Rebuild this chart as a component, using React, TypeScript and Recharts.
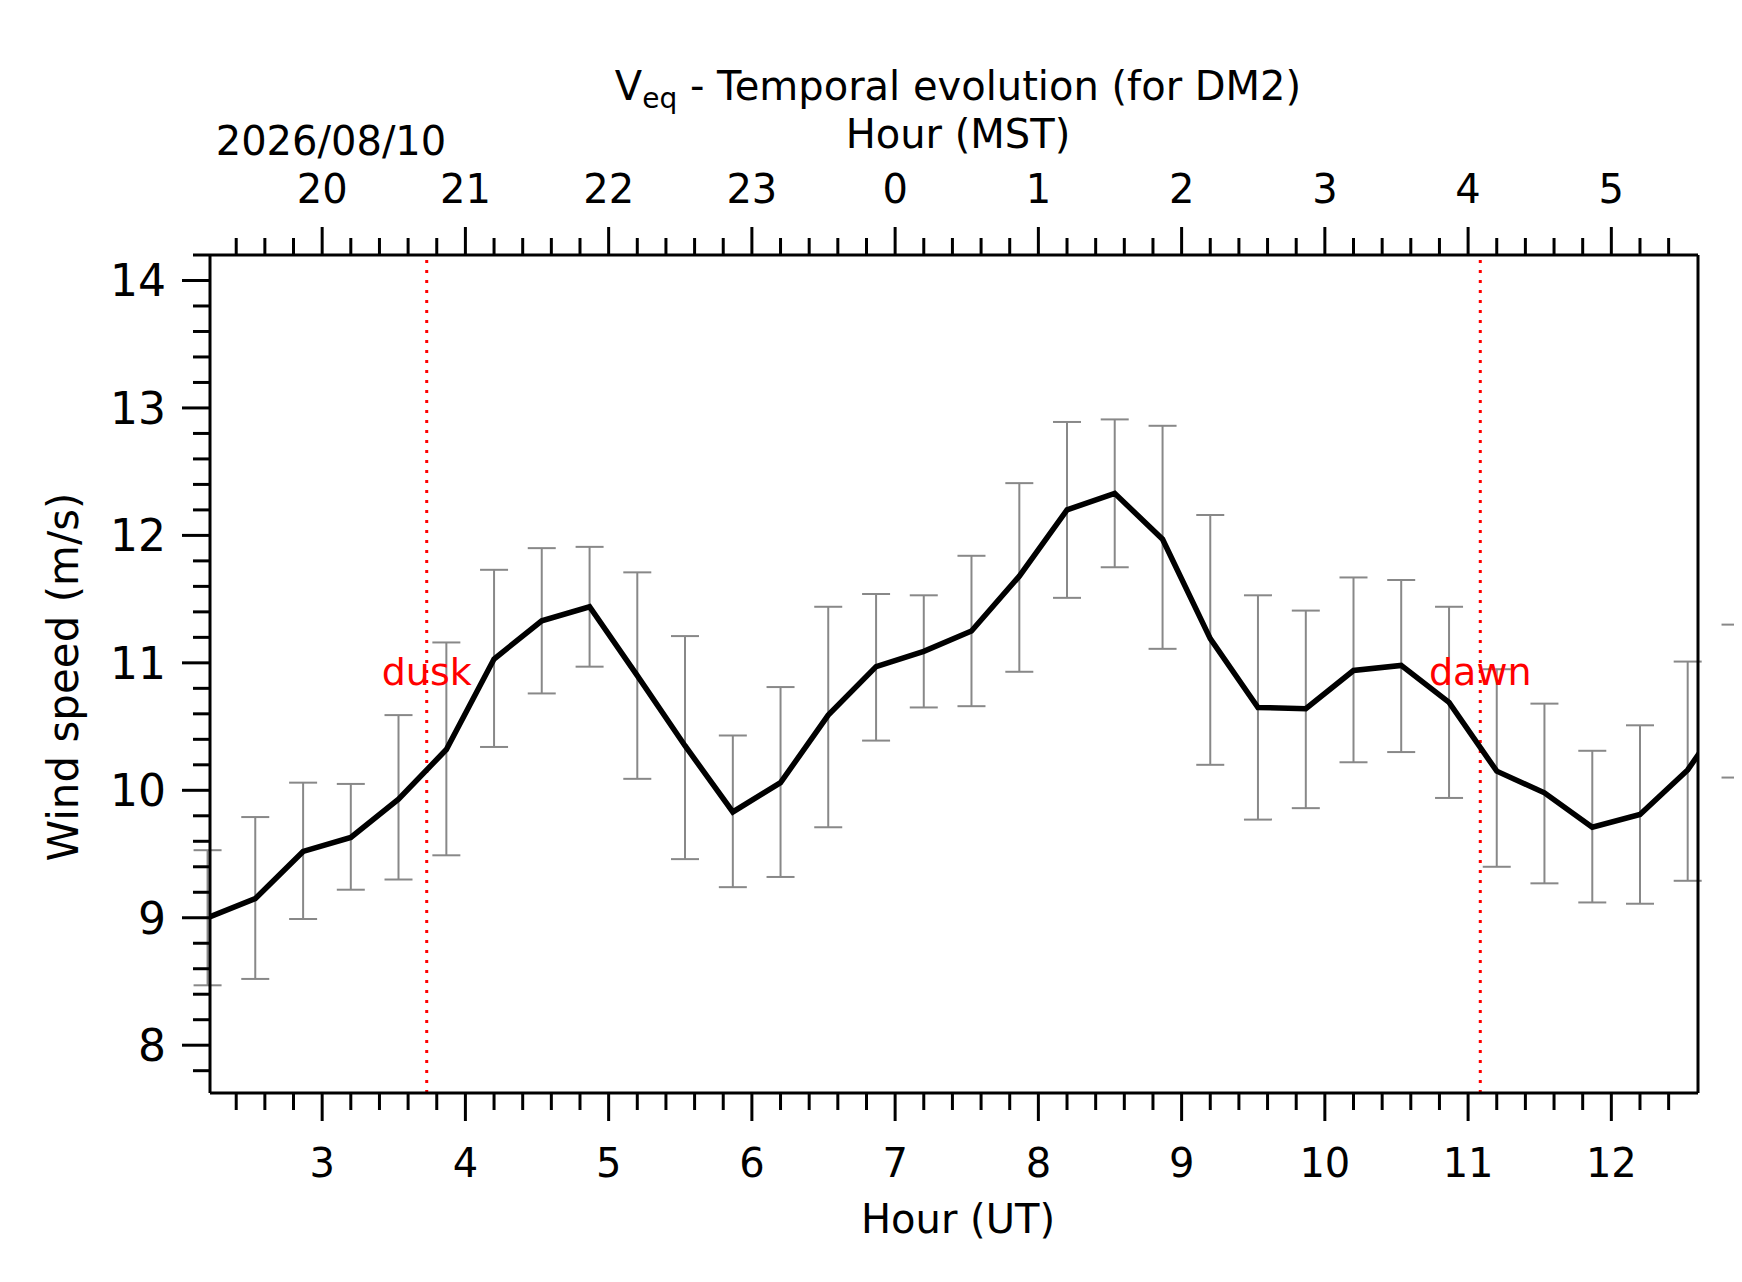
import React from 'react';
import {
  LineChart,
  Line,
  XAxis,
  YAxis,
  ErrorBar,
  ReferenceLine,
  ReferenceDot,
  Customized,
} from 'recharts';

const hoursUT = [
  2.2, 2.533, 2.867, 3.2, 3.533, 3.867, 4.2, 4.533, 4.867, 5.2, 5.533, 5.867,
  6.2, 6.533, 6.867, 7.2, 7.533, 7.867, 8.2, 8.533, 8.867, 9.2, 9.533, 9.867,
  10.2, 10.533, 10.867, 11.2, 11.533, 11.867, 12.2, 12.533, 12.867,
];
const windSpeed = [
  9.0, 9.15, 9.52, 9.63, 9.93, 10.32, 11.03, 11.33, 11.44, 10.9, 10.35, 9.83,
  10.06, 10.59, 10.97, 11.09, 11.25, 11.68, 12.2, 12.33, 11.97, 11.19, 10.65, 10.64,
  10.94, 10.98, 10.69, 10.15, 9.98, 9.71, 9.81, 10.16, 10.7,
];
const errLow = [
  8.47, 8.52, 8.99, 9.22, 9.3, 9.49, 10.34, 10.76, 10.97, 10.09, 9.46, 9.24,
  9.32, 9.71, 10.39, 10.65, 10.66, 10.93, 11.51, 11.75, 11.11, 10.2, 9.77, 9.86,
  10.22, 10.3, 9.94, 9.4, 9.27, 9.12, 9.11, 9.29, 10.1,
];
const errHigh = [
  9.53, 9.79, 10.06, 10.05, 10.59, 11.16, 11.73, 11.9, 11.91, 11.71, 11.21, 10.43,
  10.81, 11.44, 11.54, 11.53, 11.84, 12.41, 12.89, 12.91, 12.86, 12.16, 11.53, 11.41,
  11.67, 11.65, 11.44, 10.95, 10.68, 10.31, 10.51, 11.01, 11.3,
];
const duskUT = 3.73;
const dawnUT = 11.085;

const data = hoursUT.map((h, i) => ({
  h,
  v: windSpeed[i],
  err: [windSpeed[i] - errLow[i], errHigh[i] - windSpeed[i]],
}));

const X_DOMAIN: [number, number] = [2.217, 12.605];
const Y_DOMAIN: [number, number] = [7.625, 14.2];
const xTicks: number[] = [];
for (let k = 12; k <= 62; k++) xTicks.push(Math.round(k * 2) / 10);
const yTicks: number[] = [];
for (let k = 39; k <= 71; k++) yTicks.push(Math.round(k * 2) / 10);

const FONT = 'DejaVu Sans';
const isMajor = (v: number) => Math.abs(v - Math.round(v)) < 1e-6;

const BottomTick = ({ x, y, payload }: any) => {
  const major = isMajor(payload.value);
  return (
    <g>
      <line x1={x} x2={x} y1={y} y2={y + (major ? 28 : 17)} stroke="#000" strokeWidth={3} />
      {major && (
        <text x={x} y={y + 84} textAnchor="middle" fontSize={40} fontFamily={FONT} fill="#000">
          {payload.value}
        </text>
      )}
    </g>
  );
};

const TopTick = ({ x, y, payload }: any) => {
  const major = isMajor(payload.value);
  const mst = (((Math.round(payload.value) - 7) % 24) + 24) % 24;
  return (
    <g>
      <line x1={x} x2={x} y1={y} y2={y - (major ? 28 : 17)} stroke="#000" strokeWidth={3} />
      {major && (
        <text x={x} y={y - 52} textAnchor="middle" fontSize={40} fontFamily={FONT} fill="#000">
          {mst}
        </text>
      )}
    </g>
  );
};

const LeftTick = ({ x, y, payload }: any) => {
  const major = isMajor(payload.value);
  return (
    <g>
      <line x1={x} x2={x - (major ? 28 : 17)} y1={y} y2={y} stroke="#000" strokeWidth={3} />
      {major && (
        <text x={x - 44} y={y + 16} textAnchor="end" fontSize={44} fontFamily={FONT} fill="#000">
          {payload.value}
        </text>
      )}
    </g>
  );
};

const Labels = () => (
  <g fontFamily={FONT} fill="#000">
    {/* hide the error bar of the clipped point past the right edge */}
    <rect x={1700} y={240} width={42} height={860} fill="#fff" />
    <text x={958} y={100} textAnchor="middle" fontSize={40}>
      V<tspan fontSize={28} dy={8}>eq</tspan>
      <tspan dy={-8}> - Temporal evolution (for DM2)</tspan>
    </text>
    <text x={958} y={148} textAnchor="middle" fontSize={40}>Hour (MST)</text>
    <text x={331} y={155} textAnchor="middle" fontSize={40}>2026/08/10</text>
    <text x={958} y={1233} textAnchor="middle" fontSize={40}>Hour (UT)</text>
    <text
      x={78}
      y={677}
      textAnchor="middle"
      fontSize={42}
      transform="rotate(-90 78 677)"
    >
      Wind speed (m/s)
    </text>
  </g>
);

export default function App() {
  return (
    <div style={{ margin: -8, width: 1742, height: 1282, background: '#fff' }}>
      <LineChart
        width={1742}
        height={1282}
        data={data}
        margin={{ top: 254, right: 43, bottom: 188, left: 209 }}
      >
        <Customized component={<Labels />} />
        <XAxis
          xAxisId="ut"
          dataKey="h"
          type="number"
          domain={X_DOMAIN}
          allowDataOverflow
          ticks={xTicks}
          interval={0}
          height={1}
          tickSize={0}
          tickMargin={0}
          tickLine={false}
          tick={<BottomTick />}
          axisLine={{ stroke: '#000', strokeWidth: 3 }}
        />
        <XAxis
          xAxisId="mst"
          orientation="top"
          dataKey="h"
          type="number"
          domain={X_DOMAIN}
          allowDataOverflow
          ticks={xTicks}
          interval={0}
          height={1}
          tickSize={0}
          tickMargin={0}
          tickLine={false}
          tick={<TopTick />}
          axisLine={{ stroke: '#000', strokeWidth: 3 }}
        />
        <YAxis
          yAxisId="v"
          type="number"
          domain={Y_DOMAIN}
          allowDataOverflow
          ticks={yTicks}
          interval={0}
          width={1}
          tickSize={0}
          tickMargin={0}
          tickLine={false}
          tick={<LeftTick />}
          axisLine={{ stroke: '#000', strokeWidth: 3 }}
        />
        <YAxis
          yAxisId="r"
          orientation="right"
          domain={Y_DOMAIN}
          width={1}
          tick={false}
          tickLine={false}
          axisLine={{ stroke: '#000', strokeWidth: 3 }}
        />
        <ReferenceLine
          xAxisId="ut"
          yAxisId="v"
          x={duskUT}
          stroke="#ff0000"
          strokeWidth={3}
          strokeDasharray="3 7"
        />
        <ReferenceLine
          xAxisId="ut"
          yAxisId="v"
          x={dawnUT}
          stroke="#ff0000"
          strokeWidth={3}
          strokeDasharray="3 7"
        />
        <Line
          xAxisId="ut"
          yAxisId="v"
          dataKey="v"
          stroke="#000"
          strokeWidth={5.5}
          dot={false}
          activeDot={false}
          isAnimationActive={false}
        >
          <ErrorBar dataKey="err" stroke="#888" strokeWidth={2} width={14} direction="y" isAnimationActive={false} />
        </Line>
        <ReferenceDot
          xAxisId="ut"
          yAxisId="v"
          x={duskUT}
          y={10.93}
          r={0}
          stroke="none"
          label={{ value: 'dusk', position: 'center', fill: '#ff0000', fontSize: 38, fontFamily: FONT }}
        />
        <ReferenceDot
          xAxisId="ut"
          yAxisId="v"
          x={dawnUT}
          y={10.93}
          r={0}
          stroke="none"
          label={{ value: 'dawn', position: 'center', fill: '#ff0000', fontSize: 38, fontFamily: FONT }}
        />
      </LineChart>
    </div>
  );
}
